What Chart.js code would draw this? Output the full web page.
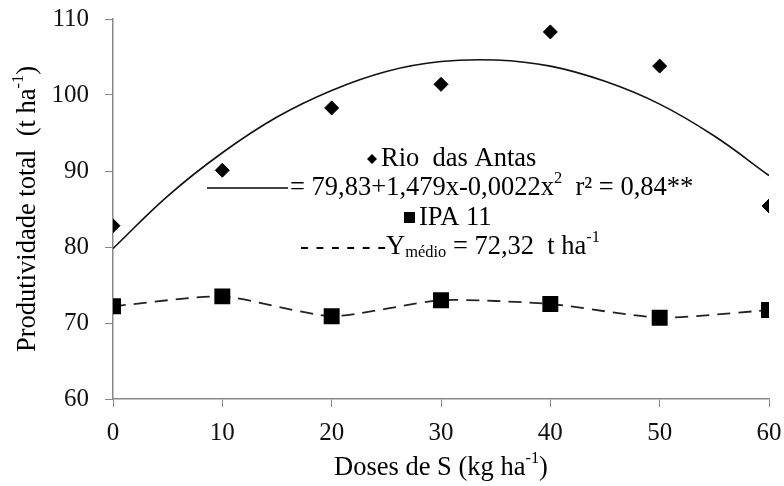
<!DOCTYPE html>
<html>
<head>
<meta charset="utf-8">
<script src="https://cdn.jsdelivr.net/npm/chart.js@4.4.0/dist/chart.umd.min.js"></script>
<style>
  html, body { margin: 0; padding: 0; background: #fff; }
  #wrap { width: 784px; height: 486px; }
</style>
</head>
<body>
<div id="wrap"><canvas id="chart" width="784" height="486"></canvas></div>
<script>
// DATA

const doses = [0, 10, 20, 30, 40, 50, 60];
const rioDasAntas = [82.8, 90.1, 98.3, 101.4, 108.3, 103.8, 85.4];
const ipa11 = [72.2, 73.5, 70.9, 73.0, 72.5, 70.7, 71.7];

// fitted curve, every 5 kg
const curveX = [0, 5, 10, 15, 20, 25, 30, 35, 40, 45, 50, 55, 60];
const curveY = [79.8, 86.7, 92.4, 97.1, 100.6, 103.1, 104.4, 104.6, 103.8, 101.8, 98.8, 94.6, 89.4];

const xTicks = [0, 10, 20, 30, 40, 50, 60];
const yTicks = [60, 70, 80, 90, 100, 110];

const FONT = "'Liberation Serif', 'Times New Roman', serif";

// DRAW TEXT WITH SUPERSCRIPTS / SUBSCRIPTS

function richWidth(ctx, parts, size) {
  let w = 0;
  parts.forEach(p => {
    const s = p.s ? size * 0.62 : size;
    ctx.font = s + "px " + FONT;
    w += ctx.measureText(p.t).width;
  });
  return w;
}

function drawRich(ctx, parts, x, y, size) {
  parts.forEach(p => {
    const s = p.s ? size * 0.62 : size;
    ctx.font = s + "px " + FONT;
    let dy = 0;
    if (p.s === "sup") dy = -size * 0.36;
    if (p.s === "sub") dy = size * 0.2;
    ctx.fillText(p.t, x, y + dy);
    x += ctx.measureText(p.t).width;
  });
  return x;
}

const textPlugin = {
  id: "texts",
  afterDraw(chart) {
    const ctx = chart.ctx;
    const area = chart.chartArea;
    ctx.save();
    ctx.fillStyle = "#000";
    ctx.textBaseline = "middle";
    ctx.textAlign = "left";

    // axis titles
    const xTitle = [{ t: "Doses de S (kg ha" }, { t: "-1", s: "sup" }, { t: ")" }];
    const xw = richWidth(ctx, xTitle, 26.5);
    drawRich(ctx, xTitle, (area.left + area.right) / 2 - xw / 2, 468, 26.5);

    const yTitle = [{ t: "Produtividade total  (t ha" }, { t: "-1", s: "sup" }, { t: ")" }];
    const yw = richWidth(ctx, yTitle, 26.5);
    ctx.save();
    ctx.translate(28, (area.top + area.bottom) / 2);
    ctx.rotate(-Math.PI / 2);
    drawRich(ctx, yTitle, -yw / 2, 0, 26.5);
    ctx.restore();

    // legend block inside the plot
    const size = 26.5;
    // line 1
    ctx.beginPath();
    ctx.moveTo(372, 159 - 5); ctx.lineTo(377, 159); ctx.lineTo(372, 159 + 5); ctx.lineTo(367, 159);
    ctx.closePath(); ctx.fill();
    drawRich(ctx, [{ t: "Rio  das Antas" }], 381, 159, size);

    // line 2
    ctx.strokeStyle = "#000";
    ctx.lineWidth = 1.5;
    ctx.beginPath();
    ctx.moveTo(207, 188); ctx.lineTo(288, 188);
    ctx.stroke();
    drawRich(ctx, [
      { t: "= 79,83+1,479x-0,0022x" }, { t: "2", s: "sup" },
      { t: "  r\u00b2 = 0,84**" }
    ], 290, 188, size);

    // line 3
    ctx.fillRect(404, 212, 11, 11);
    drawRich(ctx, [{ t: "IPA 11" }], 419, 218, size);

    // line 4
    drawRich(ctx, [
      { t: "- - - - - -Y" }, { t: "m\u00e9dio", s: "sub" },
      { t: " = 72,32  t ha" }, { t: "-1", s: "sup" }
    ], 300, 247, size);

    ctx.restore();
  }
};

function noPad(s) {
  s.paddingTop = 0;
  s.paddingBottom = 0;
  s.paddingLeft = 0;
  s.paddingRight = 0;
}

// CHART

const ctx = document.getElementById("chart").getContext("2d");

new Chart(ctx, {
  type: "scatter",
  data: {
    datasets: [
      {
        label: "ajuste",
        type: "line",
        data: curveX.map((x, i) => ({ x, y: curveY[i] })),
        borderColor: "#111",
        borderWidth: 1.6,
        pointRadius: 0,
        tension: 0.4,
        fill: false
      },
      {
        label: "Rio das Antas",
        data: doses.map((x, i) => ({ x, y: rioDasAntas[i] })),
        pointStyle: "rectRot",
        pointRadius: 7,
        backgroundColor: "#000",
        borderColor: "#000",
        borderWidth: 1
      },
      {
        label: "IPA 11",
        type: "line",
        data: doses.map((x, i) => ({ x, y: ipa11[i] })),
        borderColor: "#222",
        borderWidth: 1.8,
        borderDash: [13, 8],
        tension: 0.2,
        pointStyle: "rect",
        pointRadius: 10,
        backgroundColor: "#000",
        pointBorderColor: "#000",
        fill: false
      }
    ]
  },
  options: {
    responsive: false,
    animation: false,
    layout: { padding: { left: 0, right: 15, top: 19, bottom: 0 } },
    plugins: {
      legend: { display: false },
      tooltip: { enabled: false }
    },
    scales: {
      x: {
        type: "linear",
        min: 0,
        max: 60,
        afterBuildTicks: s => { s.ticks = xTicks.map(v => ({ value: v })); },
        afterFit: s => { s.height = 87; noPad(s); },
        grid: { display: true, drawOnChartArea: false, drawTicks: true, tickLength: 8, color: "#888" },
        border: { color: "#888", width: 1.5 },
        ticks: { color: "#111", font: { family: FONT, size: 25 }, padding: 11 }
      },
      y: {
        min: 60,
        max: 110,
        afterBuildTicks: s => { s.ticks = yTicks.map(v => ({ value: v })); },
        afterFit: s => { s.width = 113; noPad(s); },
        grid: { display: true, drawOnChartArea: false, drawTicks: true, tickLength: 8, color: "#888" },
        border: { color: "#888", width: 1.5 },
        ticks: { color: "#111", font: { family: FONT, size: 25 }, padding: 16 }
      }
    }
  },
  plugins: [textPlugin]
});
</script>
</body>
</html>
